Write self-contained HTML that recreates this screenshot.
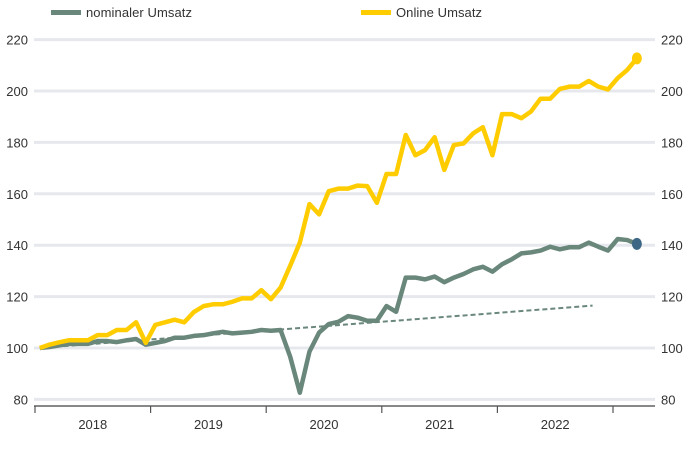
<!DOCTYPE html>
<html><head><meta charset="utf-8"><style>
body{margin:0;background:#fff;font-family:"Liberation Sans",sans-serif;}
svg text{font-family:"Liberation Sans",sans-serif;font-size:13px;fill:#333;}
</style></head><body>
<svg id="chart" width="690" height="453" xmlns="http://www.w3.org/2000/svg">
<g id="legend">
<rect x="51" y="10" width="30" height="5" fill="#6a877b"/>
<text x="86" y="17" textLength="106">nominaler Umsatz</text>
<rect x="361" y="10" width="30" height="5" fill="#ffcc00"/>
<text x="396" y="17" textLength="86">Online Umsatz</text>
</g>
<g id="grid"></g><g id="axis"></g><g id="series"></g>
</svg>
<script>
const yTicks=[80,100,120,140,160,180,200,220];
const years=["2018","2019","2020","2021","2022"];
const online=[100,101.3,102.2,103,103,103,105,105,107,107,110,102,109,110,111,110,114,116.3,117,117,118,119.3,119.3,122.5,119,123.5,132,141,156,152,161,162,162,163.2,163,156.5,167.7,167.7,182.9,175,177,182,169.3,179,179.6,183.5,185.9,175,191,191,189.4,192,197,197,200.8,201.7,201.7,203.9,201.7,200.6,205,208.2,212.7];
const nominal=[100,100.4,101,101.6,101.6,101.6,102.7,102.7,102.3,103,103.5,101.3,102,102.7,104,104,104.7,105,105.7,106.3,105.7,106,106.3,107,106.7,107,96.6,82.6,98.6,106,109.3,110.2,112.4,111.8,110.6,110.6,116.3,114.1,127.4,127.4,126.7,127.8,125.6,127.4,128.8,130.6,131.6,129.7,132.6,134.5,136.8,137.2,137.9,139.4,138.4,139.2,139.2,141,139.4,137.9,142.4,142,140.5];
const trendIdx=[0,57.4];
const trendVal=[100,116.5];
const NS="http://www.w3.org/2000/svg";
const svg=document.getElementById('chart');
function y(v){return 348-(v-100)*2.57;}
function x(i){return 35+9.63*(i+0.5);}
function mk(tag,attrs,parent){const e=document.createElementNS(NS,tag);for(const k in attrs)e.setAttribute(k,attrs[k]);parent.appendChild(e);return e;}
const grid=document.getElementById('grid');
yTicks.forEach(t=>{
 const l=mk('line',{x1:34,x2:655,y1:y(t),y2:y(t),stroke:'#e6e8ee','stroke-width':3},grid);
 
 
 const a=mk('text',{x:28,y:y(t)+5,'text-anchor':'end'},grid);a.textContent=t;
 
 
 const b=mk('text',{x:661,y:y(t)+5},grid);b.textContent=t;
 
 
});
const ax=document.getElementById('axis');
const al=mk('line',{x1:34,x2:655,y1:406,y2:406,stroke:'#888','stroke-width':2},ax);


for(let k=0;k<=years.length;k++){
 const tx=35+115.6*k;
 const t=mk('line',{x1:tx,x2:tx,y1:406,y2:413,stroke:'#555','stroke-width':1.2},ax);
 
 
 if(k<years.length){const tt=mk('text',{x:tx+57.8,y:429,'text-anchor':'middle'},ax);tt.textContent=years[k];
 
 }
}
const s=document.getElementById('series');
const tr=mk('line',{x1:x(trendIdx[0]),y1:y(trendVal[0]),x2:x(trendIdx[1]),y2:y(trendVal[1]),stroke:'#6a877b','stroke-width':2,'stroke-dasharray':'5,3'},s);


function pl(arr,color,name){
 const p=mk('polyline',{points:arr.map((v,i)=>x(i)+','+y(v)).join(' '),fill:'none',stroke:color,'stroke-width':4.5,'stroke-linejoin':'round'},s);
 
 
}
pl(nominal,'#6a877b','line-nominal');
pl(online,'#ffcc00','line-online');
const n=online.length-1;
const d1=mk('ellipse',{cx:x(n),cy:y(online[n]),rx:5,ry:6,fill:'#ffcc00'},s);


const d2=mk('ellipse',{cx:x(n),cy:y(nominal[n]),rx:5,ry:6,fill:'#3e6685'},s);


</script>
</body></html>
